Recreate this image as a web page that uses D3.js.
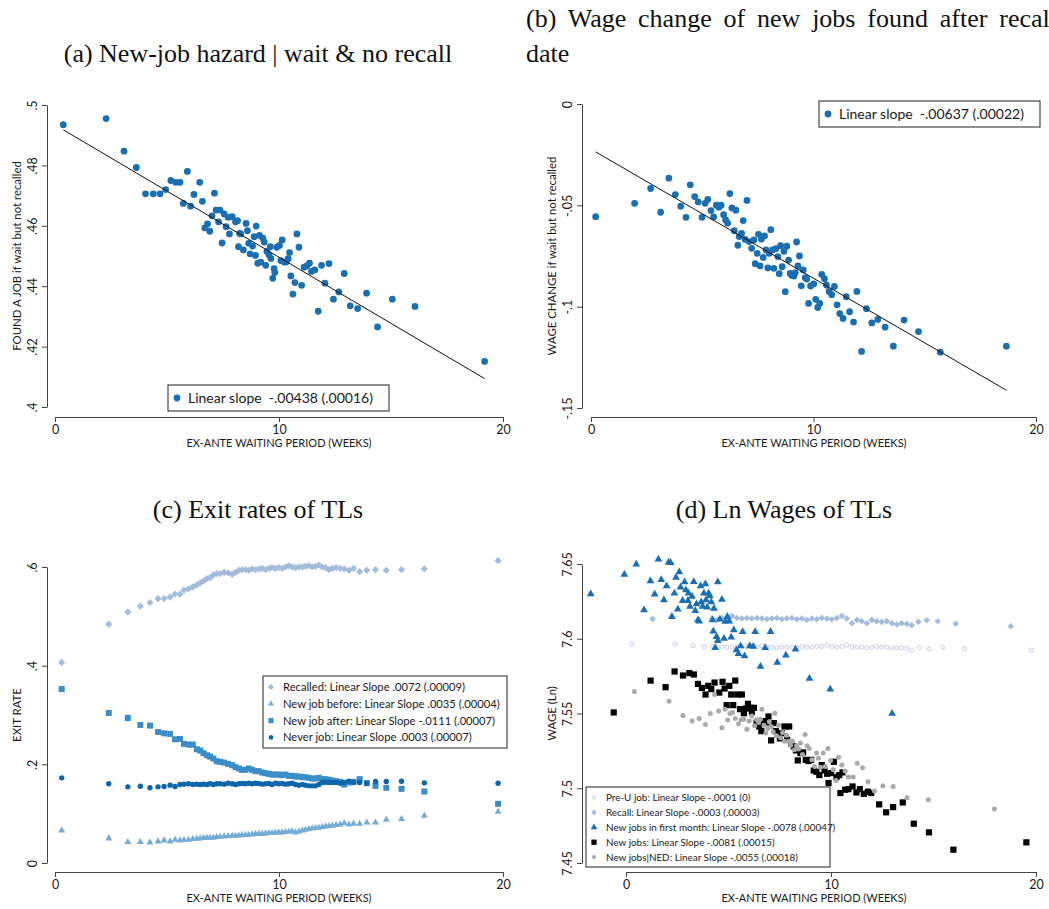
<!DOCTYPE html>
<html>
<head>
<meta charset="utf-8">
<script src="https://cdn.jsdelivr.net/npm/d3@7"></script>
<style>
  body { margin: 0; background: #fff; }
  svg text { font-family: Lato, "Open Sans", sans-serif; fill: #1a1a1a; }
  .ptitle { font-family: "Liberation Serif", serif; font-size: 26px; fill: #111; }
  .tick text { font-size: 12.5px; }
  .axtitle { font-size: 11px; }
  .ytitle { font-size: 11.4px; }
  .leg { white-space: pre; }
</style>
</head>
<body>
<svg id="chart" width="1049" height="909"></svg>
<script>
// ---------- data ----------
var xTicks = [0, 10, 20];
var xAxisTitle = "EX-ANTE WAITING PERIOD (WEEKS)";

// (a) new-job hazard, [weeks, share]
var hazardPts = [[0.37,.4935],[2.28,.4955],[3.08,.4847],[3.63,.4793],[4.04,.4706],[4.39,.4706],[4.69,.4706],
  [4.94,.4720],[5.17,.4750],[5.39,.4744],[5.58,.4744],[5.73,.4674],[5.91,.4780],[6.05,.4665],[6.20,.4704],
  [6.46,.4744],[6.58,.4681],[6.69,.4593],[6.81,.4606],[6.91,.4582],[7.01,.4633],[7.12,.4708],[7.19,.4652],
  [7.30,.4613],[7.37,.4652],[7.46,.4543],[7.55,.4639],[7.64,.4597],[7.73,.4628],[7.79,.4573],[7.91,.4630],
  [8.06,.4613],[8.15,.4617],[8.19,.4531],[8.24,.4575],[8.29,.4573],[8.41,.4520],[8.53,.4608],[8.59,.4584],
  [8.65,.4542],[8.71,.4507],[8.82,.4533],[8.89,.4564],[8.95,.4502],[8.98,.4599],[9.05,.4476],[9.13,.4568],
  [9.19,.4480],[9.28,.4559],[9.34,.4546],[9.41,.4469],[9.46,.4515],[9.55,.4504],[9.61,.4531],[9.64,.4492],
  [9.72,.4426],[9.78,.4458],[9.81,.4445],[9.90,.4529],[10.02,.4535],[10.08,.4485],[10.14,.4553],[10.23,.4480],
  [10.32,.4480],[10.41,.4491],[10.47,.4511],[10.53,.4434],[10.62,.4374],[10.71,.4412],[10.80,.4573],[10.89,.4529],
  [11.01,.4403],[11.12,.4463],[11.24,.4467],[11.36,.4476],[11.45,.4449],[11.60,.4454],[11.75,.4317],[11.90,.4469],
  [12.05,.4410],[12.23,.4475],[12.43,.4357],[12.67,.4381],[12.91,.4442],[13.18,.4335],[13.51,.4326],[13.91,.4377],
  [14.40,.4265],[15.06,.4357],[16.07,.4333],[19.18,.4151]];
var hazardIntercept = 0.4934, hazardSlope = -0.00438;

// (b) wage change of new jobs, [weeks, change]
var wagePts = [[0.21,-.0556],[1.96,-.0490],[2.68,-.0417],[3.13,-.0534],[3.50,-.0366],[3.79,-.0447],[4.03,-.0504],
  [4.27,-.0559],[4.46,-.0399],[4.66,-.0457],[4.82,-.0483],[4.99,-.0559],[5.13,-.0490],[5.25,-.0471],[5.39,-.0526],
  [5.51,-.0557],[5.63,-.0499],[5.75,-.0509],[5.85,-.0499],[5.96,-.0546],[6.05,-.0572],[6.14,-.0588],[6.24,-.0442],
  [6.33,-.0513],[6.44,-.0625],[6.51,-.0524],[6.60,-.0697],[6.66,-.0654],[6.77,-.0638],[6.84,-.0575],[6.93,-.0668],
  [7.01,-.0476],[7.11,-.0679],[7.22,-.0712],[7.32,-.0671],[7.38,-.0788],[7.47,-.0737],[7.53,-.0643],[7.60,-.0799],
  [7.66,-.0666],[7.74,-.0757],[7.80,-.0651],[7.87,-.0720],[7.95,-.0809],[8.01,-.0737],[8.08,-.0620],[8.16,-.0720],
  [8.22,-.0811],[8.31,-.0714],[8.40,-.0753],[8.46,-.0837],[8.52,-.0699],[8.59,-.0803],[8.67,-.0727],[8.73,-.0926],
  [8.80,-.0702],[8.88,-.0770],[8.95,-.0836],[9.03,-.0846],[9.12,-.0849],[9.18,-.0832],[9.24,-.0681],[9.30,-.0799],
  [9.37,-.0750],[9.45,-.0897],[9.54,-.0819],[9.63,-.0857],[9.70,-.0864],[9.78,-.0984],[9.87,-.0898],[10.01,-.0888],
  [10.10,-.0964],[10.19,-.1004],[10.28,-.0984],[10.37,-.0841],[10.49,-.0862],[10.58,-.0893],[10.70,-.0925],
  [10.82,-.0941],[10.94,-.0900],[11.06,-.0991],[11.18,-.1034],[11.33,-.1058],[11.47,-.0951],[11.62,-.1025],
  [11.80,-.1076],[11.95,-.0925],[12.16,-.1221],[12.38,-.1010],[12.62,-.1080],[12.89,-.1063],[13.22,-.1101],
  [13.59,-.1195],[14.07,-.1066],[14.72,-.1123],[15.70,-.1225],[18.67,-.1195]];
var wageIntercept = -0.0223, wageSlope = -0.00637;

// (c) exit rates of TLs, shared week grid
var exitWeeks = [0.30,2.40,3.25,3.81,4.24,4.60,4.87,5.14,5.36,5.58,5.76,5.96,6.15,6.33,6.48,6.63,6.78,6.92,7.07,7.22,
  7.37,7.55,7.73,7.91,8.06,8.21,8.35,8.50,8.65,8.80,8.95,9.10,9.25,9.40,9.55,9.69,9.84,9.99,10.14,10.29,10.44,10.59,
  10.74,10.89,11.04,11.18,11.33,11.48,11.63,11.78,11.93,12.08,12.23,12.38,12.55,12.73,12.91,13.12,13.33,13.60,13.92,
  14.31,14.79,15.47,16.49,19.78];
var exitRecalled = [.4065,.4841,.509,.5205,.528,.536,.536,.539,.545,.545,.553,.5555,.5596,.5636,.5677,.5717,.5764,
  .5784,.5838,.5865,.5865,.5892,.5879,.5852,.5892,.5933,.5946,.5946,.5933,.596,.5946,.596,.5973,.5946,.5973,.5987,
  .5973,.5987,.5973,.6,.6027,.6,.5987,.6,.6,.6014,.6027,.6,.6014,.6041,.6,.5987,.5946,.5973,.5987,.5973,.596,.5933,
  .5973,.5906,.5933,.5946,.5933,.5946,.596,.6128];
var exitBefore = [.0661,.0499,.0425,.0425,.0418,.0438,.0458,.0438,.0472,.0458,.0465,.0472,.0485,.0492,.0499,.0505,
  .0512,.0512,.0512,.0526,.0532,.0539,.0546,.0553,.0553,.0559,.0566,.0566,.0573,.058,.0586,.0593,.0593,.06,.0607,
  .0607,.0614,.062,.062,.0627,.0634,.0647,.062,.064,.0661,.0674,.0688,.0701,.0708,.0715,.0728,.0742,.0748,.0755,
  .0769,.0782,.0809,.0782,.0796,.0796,.0822,.0822,.0876,.089,.0957,.1038];
var exitAfter = [.3526,.3041,.2939,.2798,.2784,.2656,.2629,.2616,.2508,.2515,.2414,.24,.24,.2306,.2279,.2225,.2184,
  .2157,.2117,.2063,.205,.2036,.2009,.1982,.1942,.1915,.1888,.1888,.1915,.1888,.1861,.1861,.1834,.182,.1807,.1793,
  .1793,.1793,.178,.1793,.1766,.1766,.1753,.1753,.1739,.1739,.1726,.1712,.1712,.1726,.1699,.1699,.1685,.1672,.1658,
  .1645,.1591,.1631,.1645,.1699,.1618,.1564,.1524,.1503,.1449,.12];
var exitNever = [.1726,.1605,.1544,.1557,.1524,.1544,.1551,.1578,.1551,.1591,.1598,.1605,.1591,.1598,.1591,.1598,
  .1591,.1605,.1591,.1605,.1605,.1598,.1618,.1605,.1591,.1605,.1611,.1605,.1618,.1605,.1618,.1611,.1598,.1605,.1611,
  .1591,.1618,.1605,.1611,.1598,.1605,.1618,.1591,.1578,.1591,.1578,.1564,.1564,.1564,.1591,.1632,.1638,.1632,.1632,
  .1632,.1618,.1632,.1658,.1632,.1632,.1618,.1652,.1652,.1658,.1625,.1618];

// (d) ln wages of TLs, [weeks, ln wage]
var wPreU = [[0.29,7.5963],[2.40,7.5963],[3.27,7.5954],[3.82,7.5948],[4.22,7.5948],[4.44,7.5948],[4.68,7.5948],
  [4.92,7.5943],[5.17,7.5943],[5.41,7.5948],[5.65,7.5948],[5.90,7.5948],[6.14,7.5952],[6.39,7.5948],[6.63,7.5952],
  [6.87,7.5948],[7.12,7.5943],[7.36,7.5939],[7.60,7.5943],[7.85,7.5943],[8.09,7.5943],[8.33,7.5943],[8.58,7.5948],
  [8.82,7.5943],[9.07,7.5943],[9.31,7.5948],[9.55,7.5948],[9.80,7.5957],[10.04,7.5948],[10.28,7.5943],[10.53,7.5948],
  [10.77,7.5957],[11.02,7.5948],[11.26,7.5943],[11.50,7.5943],[11.75,7.5939],[11.99,7.5943],[12.23,7.5948],
  [12.48,7.5943],[12.72,7.5943],[12.97,7.5939],[13.21,7.5939],[13.45,7.5939],[13.70,7.5937],[13.94,7.5925],
  [14.31,7.5941],[14.80,7.5932],[15.45,7.5943],[16.51,7.5934],[19.79,7.5923]];
var wRecall = [[1.30,7.6133],[4.19,7.6135],[4.44,7.6126],[4.68,7.6139],[4.92,7.6135],[5.17,7.6153],[5.41,7.6139],
  [5.65,7.6135],[5.90,7.6139],[6.14,7.6135],[6.39,7.6139],[6.63,7.6135],[6.87,7.6130],[7.12,7.6135],[7.36,7.6139],
  [7.60,7.6130],[7.85,7.6135],[8.09,7.6139],[8.33,7.6130],[8.58,7.6135],[8.82,7.6126],[9.07,7.6135],[9.31,7.6130],
  [9.55,7.6139],[9.80,7.6135],[10.04,7.6130],[10.28,7.6139],[10.53,7.6153],[10.77,7.6135],[11.02,7.6104],
  [11.26,7.6126],[11.50,7.6117],[11.75,7.6104],[11.99,7.6126],[12.23,7.6117],[12.48,7.6113],[12.72,7.6117],
  [12.97,7.6104],[13.21,7.6095],[13.45,7.6104],[13.70,7.6099],[13.94,7.6090],[14.26,7.6113],[14.67,7.6124],
  [15.21,7.6117],[16.08,7.6101],[18.77,7.6084]];
var wFirstMonth = [[-1.72,7.6300],[-0.08,7.6429],[0.50,7.6498],[0.88,7.6193],[1.19,7.6386],[1.40,7.6297],
  [1.58,7.6531],[1.72,7.6395],[1.85,7.6259],[1.98,7.6353],[2.08,7.6511],[2.18,7.6509],[2.24,7.6148],[2.36,7.6304],
  [2.44,7.6409],[2.53,7.6197],[2.60,7.6447],[2.66,7.6344],[2.76,7.6255],[2.86,7.6380],[2.92,7.6326],[3.02,7.6255],
  [3.05,7.6304],[3.12,7.6215],[3.22,7.6282],[3.31,7.6382],[3.38,7.6188],[3.44,7.6233],[3.51,7.6126],[3.57,7.6117],
  [3.64,7.6353],[3.67,7.6246],[3.74,7.6215],[3.80,7.6304],[3.87,7.6366],[3.90,7.6259],[3.96,7.6210],[4.03,7.6304],
  [4.09,7.6286],[4.16,7.6246],[4.22,7.6126],[4.26,7.6050],[4.29,7.6202],[4.35,7.5939],[4.42,7.6014],[4.48,7.5986],
  [4.48,7.6380],[4.58,7.6130],[4.68,7.6262],[4.78,7.6001],[4.84,7.6115],[4.94,7.6148],[5.04,7.6117],[5.13,7.6010],
  [5.26,7.6059],[5.39,7.5925],[5.49,7.5899],[5.59,7.5952],[5.69,7.6046],[5.78,7.5885],[6.04,7.5952],[6.21,7.5948],
  [6.30,7.6046],[6.56,7.5814],[6.79,7.5939],[7.05,7.6046],[7.38,7.5841],[7.80,7.5890],[8.27,7.5930],[8.95,7.5734],
  [9.96,7.5663],[12.98,7.5500]];
var wNewJobs = [[-0.60,7.5507],[1.20,7.5720],[1.93,7.5676],[2.37,7.5781],[2.78,7.5754],[3.09,7.5770],[3.31,7.5761],
  [3.51,7.5698],[3.70,7.5671],[3.88,7.5627],[4.01,7.5685],[4.16,7.5663],[4.32,7.5707],[4.55,7.5640],[4.71,7.5712],
  [4.81,7.5667],[4.91,7.5556],[5.04,7.5685],[5.13,7.5627],[5.23,7.5556],[5.33,7.5720],[5.43,7.5627],[5.56,7.5529],
  [5.65,7.5627],[5.75,7.5502],[5.85,7.5533],[5.95,7.5565],[6.08,7.5538],[6.14,7.5511],[6.24,7.5538],[6.37,7.5440],
  [6.50,7.5413],[6.60,7.5382],[6.73,7.5449],[6.86,7.5440],[6.95,7.5480],[7.08,7.5320],[7.21,7.5436],[7.31,7.5382],
  [7.41,7.5360],[7.51,7.5333],[7.60,7.5369],[7.73,7.5413],[7.86,7.5324],[7.96,7.5413],[8.06,7.5297],[8.19,7.5280],
  [8.29,7.5253],[8.38,7.5186],[8.51,7.5235],[8.64,7.5240],[8.77,7.5190],[8.90,7.5182],[9.03,7.5190],[9.16,7.5119],
  [9.29,7.5110],[9.43,7.5088],[9.55,7.5155],[9.68,7.5119],[9.81,7.5097],[9.88,7.5035],[10.01,7.5101],[10.14,7.5177],
  [10.27,7.5075],[10.40,7.5088],[10.46,7.4968],[10.56,7.5106],[10.69,7.4990],[10.85,7.4994],[11.05,7.5012],
  [11.24,7.4972],[11.41,7.4994],[11.60,7.4963],[11.80,7.4977],[11.96,7.4968],[12.35,7.4892],[12.69,7.4839],
  [13.03,7.4874],[13.50,7.4905],[14.04,7.4763],[14.78,7.4705],[15.97,7.4589],[19.53,7.4638]];
var wNed = [[0.41,7.5647],[2.10,7.5582],[2.78,7.5487],[3.23,7.5449],[3.57,7.5467],[3.87,7.5427],[4.11,7.5500],
  [4.32,7.5627],[4.52,7.5516],[4.68,7.5404],[4.83,7.5529],[4.96,7.5456],[5.07,7.5500],[5.20,7.5507],[5.33,7.5467],
  [5.49,7.5431],[5.62,7.5458],[5.75,7.5462],[5.90,7.5395],[6.01,7.5449],[6.14,7.5484],[6.27,7.5418],[6.37,7.5458],
  [6.47,7.5440],[6.56,7.5462],[6.63,7.5529],[6.73,7.5422],[6.82,7.5369],[6.92,7.5400],[6.99,7.5444],[7.08,7.5413],
  [7.18,7.5378],[7.26,7.5502],[7.34,7.5351],[7.44,7.5422],[7.54,7.5337],[7.64,7.5373],[7.73,7.5315],[7.83,7.5355],
  [7.93,7.5315],[8.03,7.5288],[8.12,7.5315],[8.22,7.5257],[8.32,7.5284],[8.42,7.5262],[8.51,7.5302],[8.61,7.5226],
  [8.74,7.5360],[8.84,7.5284],[8.94,7.5266],[9.07,7.5190],[9.20,7.5146],[9.29,7.5235],[9.39,7.5200],[9.49,7.5141],
  [9.62,7.5235],[9.72,7.5146],[9.85,7.5266],[9.98,7.5186],[10.11,7.5124],[10.24,7.5052],[10.37,7.5208],
  [10.53,7.5155],[10.69,7.5115],[10.85,7.5075],[11.08,7.5075],[11.28,7.5168],[11.54,7.5137],[11.80,7.5043],
  [12.12,7.4981],[12.53,7.5017],[13.03,7.5012],[13.71,7.4937],[14.75,7.4923],[17.97,7.4861]];

// ---------- drawing ----------
var svg = d3.select("#chart");

function shapePath(shape, s) {
  if (shape === "diamond") return "M0," + (-s) + "L" + s + ",0L0," + s + "L" + (-s) + ",0Z";
  if (shape === "square") return "M" + (-s) + "," + (-s) + "H" + s + "V" + s + "H" + (-s) + "Z";
  if (shape === "triangle") {
    var h = s * 1.732;
    return "M0," + (-h * 2 / 3) + "L" + s + "," + (h / 3) + "L" + (-s) + "," + (h / 3) + "Z";
  }
  return "M" + s + ",0A" + s + "," + s + " 0 1,1 " + (-s) + ",0A" + s + "," + s + " 0 1,1 " + s + ",0Z";
}

function drawMarks(g, pts, x, y, st) {
  g.append("g").selectAll("path").data(pts).join("path")
    .attr("transform", function(d) { return "translate(" + x(d[0]) + "," + y(d[1]) + ")"; })
    .attr("d", shapePath(st.shape, st.size))
    .attr("fill", st.open ? "#fff" : st.color)
    .attr("fill-opacity", st.open ? 0 : 1)
    .attr("stroke", st.open ? st.color : "none")
    .attr("stroke-width", 0.9);
}

function setupPanel(cfg) {
  var x = d3.scaleLinear().domain([0, 20]).range(cfg.xRange);
  var y = d3.scaleLinear().domain(cfg.yDomain).range(cfg.yRange);
  var g = svg.append("g");

  var yAx = g.append("g").attr("transform", "translate(" + cfg.yAxisX + ",0)")
    .call(d3.axisLeft(y).tickValues(cfg.yTicks)
      .tickFormat(function(d, i) { return cfg.yLabels[i]; })
      .tickSize(5).tickSizeOuter(0));
  yAx.selectAll(".tick text")
    .attr("transform", "rotate(-90)").attr("x", 0).attr("y", -10).attr("dy", 0)
    .attr("text-anchor", "middle");

  var xAx = g.append("g").attr("transform", "translate(0," + cfg.xAxisY + ")")
    .call(d3.axisBottom(x).tickValues(xTicks).tickFormat(d3.format("d"))
      .tickSize(5).tickSizeOuter(0));
  xAx.selectAll(".tick text").attr("y", 17).attr("dy", 0);

  [yAx, xAx].forEach(function(a) {
    a.attr("font-family", null).attr("font-size", null);
    a.select(".domain").attr("stroke", "#444");
    a.selectAll(".tick line").attr("stroke", "#444");
  });

  g.append("text").attr("class", "axtitle")
    .attr("x", cfg.xTitleX).attr("y", cfg.xAxisY + 30).attr("text-anchor", "middle")
    .text(xAxisTitle);
  g.append("text").attr("class", "ytitle")
    .attr("transform", "translate(" + (cfg.yAxisX - 26) + "," + ((cfg.yRange[0] + cfg.yRange[1]) / 2) + ") rotate(-90)")
    .attr("text-anchor", "middle")
    .text(cfg.yTitle);
  return { g: g, x: x, y: y };
}

function drawFit(p, pts, a, b) {
  var xs = d3.extent(pts, function(d) { return d[0]; });
  p.g.append("line")
    .attr("x1", p.x(xs[0])).attr("y1", p.y(a + b * xs[0]))
    .attr("x2", p.x(xs[1])).attr("y2", p.y(a + b * xs[1]))
    .attr("stroke", "#111").attr("stroke-width", 1);
}

function drawLegend(box, items, fontSize, rowStep, firstRow) {
  var lg = svg.append("g");
  lg.append("rect").attr("x", box.x).attr("y", box.y).attr("width", box.w).attr("height", box.h)
    .attr("fill", "#fff").attr("stroke", "#222").attr("stroke-width", 1);
  items.forEach(function(it, i) {
    var cy = box.y + firstRow + i * rowStep;
    lg.append("path").attr("transform", "translate(" + (box.x + box.mx) + "," + cy + ")")
      .attr("d", shapePath(it.st.shape, it.st.size * 0.85))
      .attr("fill", it.st.open ? "none" : it.st.color)
      .attr("stroke", it.st.open ? it.st.color : "none").attr("stroke-width", 0.9);
    lg.append("text").attr("class", "leg").attr("x", box.x + box.tx).attr("y", cy).attr("dy", "0.36em")
      .style("font-size", fontSize + "px").text(it.label);
  });
}

// marker styles
var stBlue = { shape: "circle", size: 3.4, color: "#1a6fb3" };
var stRecalled = { shape: "diamond", size: 3.6, color: "#a4bcdc" };
var stBefore = { shape: "triangle", size: 3.5, color: "#74acd6" };
var stAfter = { shape: "square", size: 3.0, color: "#3a8ec7" };
var stNever = { shape: "circle", size: 2.7, color: "#0e66aa" };
var stPreU = { shape: "circle", size: 2.0, color: "#c4c4e4", open: true };
var stRecall = { shape: "diamond", size: 3.3, color: "#a4bcdc" };
var stFirst = { shape: "triangle", size: 3.9, color: "#1a6fb3" };
var stNew = { shape: "square", size: 3.1, color: "#000" };
var stNed = { shape: "circle", size: 2.5, color: "#a9a9a9" };

// titles
svg.append("text").attr("class", "ptitle").attr("x", 258).attr("y", 62).attr("text-anchor", "middle")
  .text("(a) New-job hazard | wait & no recall");
var tb = svg.append("text").attr("class", "ptitle").attr("x", 526).attr("y", 27)
  .text("(b) Wage change of new jobs found after recall");
var tbw = tb.node().getComputedTextLength();
tb.attr("word-spacing", ((531 - tbw) / 8) + "px");
svg.append("text").attr("class", "ptitle").attr("x", 526).attr("y", 62).text("date");
svg.append("text").attr("class", "ptitle").attr("x", 258).attr("y", 518).attr("text-anchor", "middle")
  .text("(c) Exit rates of TLs");
svg.append("text").attr("class", "ptitle").attr("x", 784).attr("y", 518).attr("text-anchor", "middle")
  .text("(d) Ln Wages of TLs");

// (a)
var pa = setupPanel({ xRange: [55, 503], yDomain: [.4, .5], yRange: [407, 105], yAxisX: 47, xAxisY: 417,
  xTitleX: 279, yTicks: [.4, .42, .44, .46, .48, .5], yLabels: [".4", ".42", ".44", ".46", ".48", ".5"],
  yTitle: "FOUND A JOB if wait but not recalled" });
drawMarks(pa.g, hazardPts, pa.x, pa.y, stBlue);
drawFit(pa, hazardPts, hazardIntercept, hazardSlope);
drawLegend({ x: 168, y: 385, w: 221, h: 26, mx: 9, tx: 20 },
  [{ label: "Linear slope  -.00438 (.00016)", st: { shape: "circle", size: 4, color: "#1a6fb3" } }], 14, 0, 13);

// (b)
var pb = setupPanel({ xRange: [591, 1036], yDomain: [-.15, 0], yRange: [408, 104], yAxisX: 582, xAxisY: 417,
  xTitleX: 814, yTicks: [-.15, -.1, -.05, 0], yLabels: ["-.15", "-.1", "-.05", "0"],
  yTitle: "WAGE CHANGE if wait but not recalled" });
drawMarks(pb.g, wagePts, pb.x, pb.y, stBlue);
drawFit(pb, wagePts, wageIntercept, wageSlope);
drawLegend({ x: 819, y: 101, w: 221, h: 26, mx: 9, tx: 20 },
  [{ label: "Linear slope  -.00637 (.00022)", st: { shape: "circle", size: 4, color: "#1a6fb3" } }], 14, 0, 13);

// (c)
var pc = setupPanel({ xRange: [55, 503], yDomain: [0, .6], yRange: [863, 567], yAxisX: 47, xAxisY: 872,
  xTitleX: 279, yTicks: [0, .2, .4, .6], yLabels: ["0", ".2", ".4", ".6"], yTitle: "EXIT RATE" });
function zipWeeks(vals) { return vals.map(function(v, i) { return [exitWeeks[i], v]; }); }
drawMarks(pc.g, zipWeeks(exitRecalled), pc.x, pc.y, stRecalled);
drawMarks(pc.g, zipWeeks(exitBefore), pc.x, pc.y, stBefore);
drawMarks(pc.g, zipWeeks(exitAfter), pc.x, pc.y, stAfter);
drawMarks(pc.g, zipWeeks(exitNever), pc.x, pc.y, stNever);
drawLegend({ x: 263, y: 676, w: 244, h: 72, mx: 8, tx: 20 }, [
  { label: "Recalled: Linear Slope .0072 (.00009)", st: stRecalled },
  { label: "New job before: Linear Slope .0035 (.00004)", st: stBefore },
  { label: "New job after: Linear Slope -.0111 (.00007)", st: stAfter },
  { label: "Never job: Linear Slope .0003 (.00007)", st: stNever }
], 11.2, 16.8, 11);

// (d)
var pd = setupPanel({ xRange: [626, 1036], yDomain: [7.45, 7.65], yRange: [863, 564], yAxisX: 582, xAxisY: 872,
  xTitleX: 814, yTicks: [7.45, 7.5, 7.55, 7.6, 7.65], yLabels: ["7.45", "7.5", "7.55", "7.6", "7.65"],
  yTitle: "WAGE (Ln)" });
drawMarks(pd.g, wPreU, pd.x, pd.y, stPreU);
drawMarks(pd.g, wRecall, pd.x, pd.y, stRecall);
drawMarks(pd.g, wFirstMonth, pd.x, pd.y, stFirst);
drawMarks(pd.g, wNewJobs, pd.x, pd.y, stNew);
drawMarks(pd.g, wNed, pd.x, pd.y, stNed);
drawLegend({ x: 586, y: 787, w: 244, h: 80, mx: 8, tx: 20 }, [
  { label: "Pre-U job: Linear Slope -.0001 (0)", st: stPreU },
  { label: "Recall: Linear Slope -.0003 (.00003)", st: stRecall },
  { label: "New jobs in first month: Linear Slope -.0078 (.00047)", st: stFirst },
  { label: "New jobs: Linear Slope -.0081 (.00015)", st: stNew },
  { label: "New jobs|NED: Linear Slope -.0055 (.00018)", st: stNed }
], 9.9, 14.9, 10.5);
</script>
</body>
</html>
